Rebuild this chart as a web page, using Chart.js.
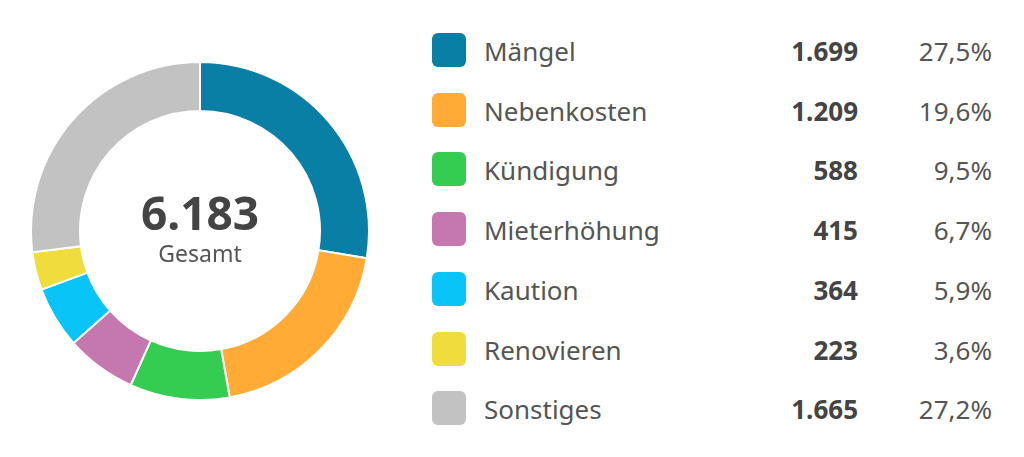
<!DOCTYPE html>
<html><head><meta charset="utf-8">
<script src="https://cdn.jsdelivr.net/npm/chart.js@4"></script>
<style>
body{margin:0;width:1024px;height:457px;background:#fff;font-family:"Noto Sans",sans-serif;color:#444;overflow:hidden;position:relative}
#wrap{position:absolute;left:30px;top:61px;width:340px;height:340px}
#center{position:absolute;left:30px;top:61px;width:340px;height:340px;display:flex;flex-direction:column;align-items:center;justify-content:center;pointer-events:none}
#total{font-size:46px;font-weight:bold;color:#444;line-height:52px;margin-top:-8px}
#lbl{font-size:23px;color:#555;line-height:30px}
.row{position:absolute;left:432px;height:36px;width:560px;font-size:26px;line-height:36px}
.sw{position:absolute;left:0;top:0;width:34px;height:34px;border-radius:6px}
.name{position:absolute;left:52px;color:#555}
.val{position:absolute;right:134px;font-weight:bold;color:#444}
.pct{position:absolute;right:0;color:#555}
</style></head><body>
<div id="wrap"><canvas id="c"></canvas></div>
<div id="center"><div id="total"></div><div id="lbl">Gesamt</div></div>
<div id="legend"></div>
<script>
const categories=["Mängel","Nebenkosten","Kündigung","Mieterhöhung","Kaution","Renovieren","Sonstiges"];
const values=[1699,1209,588,415,364,223,1665];
const percents=["27,5%","19,6%","9,5%","6,7%","5,9%","3,6%","27,2%"];
const colors=["#0a7fa5","#ffab35","#35cc52","#c578b0","#08c4f7","#f0dc3c","#c2c2c2"];
const total=6183;
document.getElementById('total').textContent=total.toLocaleString('de-DE');
const lg=document.getElementById('legend');
categories.forEach((c,i)=>{
  const d=document.createElement('div');d.className='row';d.style.top=(33+i*59.7)+'px';
  d.innerHTML=`<div class="sw" style="background:${colors[i]}"></div><span class="name">${c}</span><span class="val">${values[i].toLocaleString('de-DE')}</span><span class="pct">${percents[i]}</span>`;
  lg.appendChild(d);
});
new Chart(document.getElementById('c'),{type:'doughnut',
 data:{labels:categories,datasets:[{data:values,backgroundColor:colors,borderColor:'#fff',borderWidth:2}]},
 options:{responsive:true,maintainAspectRatio:false,animation:false,cutout:'71%',
  plugins:{legend:{display:false},tooltip:{enabled:false}}}});
</script></body></html>
